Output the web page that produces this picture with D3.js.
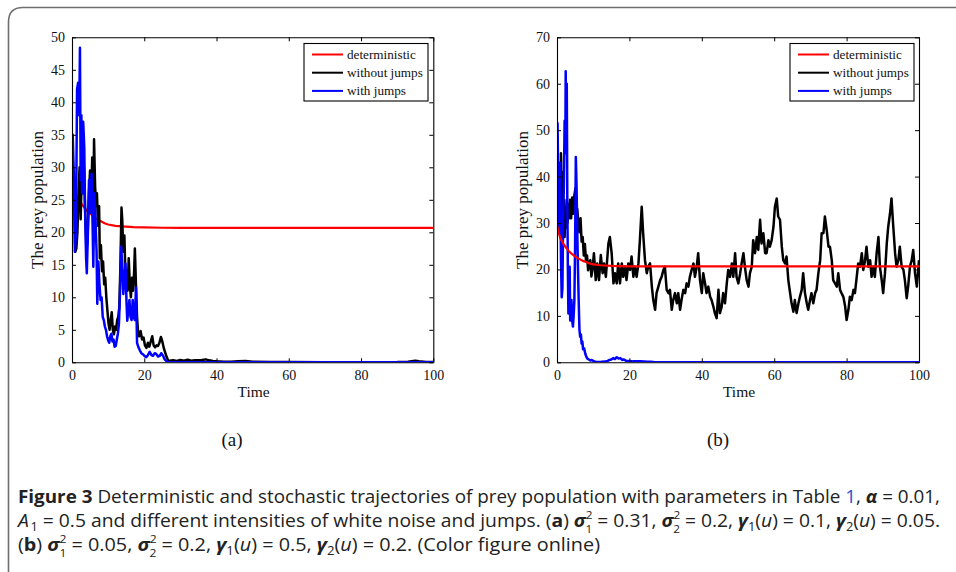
<!DOCTYPE html>
<html lang="en">
<head>
<meta charset="UTF-8">
<title>Figure 3</title>
<script src="https://cdn.jsdelivr.net/npm/d3@7"></script>
<style>
  body { margin: 0; background: #fff; }
  svg { display: block; }
</style>
</head>
<body>
<svg id="fig" width="956" height="572"></svg>
<script>
// ---- data: [time, prey] ----
const timeTicks = [0, 20, 40, 60, 80, 100];
const yTicksA = [0, 5, 10, 15, 20, 25, 30, 35, 40, 45, 50];
const yTicksB = [0, 10, 20, 30, 40, 50, 60, 70];
const legendLabels = ["deterministic", "without jumps", "with jumps"];
const seriesColors = ["#ff0000", "#000000", "#0000ff"];

const detA = [[0,27.5],[0.5,26.5],[1,25.9],[2,24.9],[3,24.1],[4,23.4],[5,22.9],[6,22.4],[7,22.0],[8,21.7],[9,21.4],[10,21.2],[12,21.0],[14,20.9],[17,20.8],[20,20.75],[25,20.7],[30,20.68],[100,20.68]];

const noJumpA = [[0,28],[0.3,25],[0.6,27],[0.9,17],[1.2,17.5],[1.5,20],[1.8,26],[2.1,30],[2.4,22],[2.7,29],[3.0,26],[3.3,30],[3.6,24],[4.0,17],[4.3,19],[4.7,26],[5.0,29.5],[5.3,25],[5.6,31.5],[5.9,22],[6.1,34.3],[6.4,27],[6.7,24],[6.9,26],[7.2,21],[7.5,24],[7.7,16],[8.0,18],[8.3,14],[8.6,15.5],[8.9,12],[9.2,13],[9.5,10],[9.8,8],[10.1,6],[10.4,5],[10.7,6.5],[11.0,7.7],[11.3,5],[11.6,4.3],[11.9,5.5],[12.2,5],[12.5,6.5],[12.8,7],[13.1,8.5],[13.4,15],[13.7,23.8],[13.9,22],[14.2,17],[14.5,19.5],[14.8,13],[15.1,14],[15.4,11],[15.7,16],[16.0,12],[16.3,10],[16.6,13],[16.9,11],[17.2,14],[17.4,17.5],[17.7,12],[18.0,7],[18.3,4.5],[18.6,4],[19.0,4.8],[19.4,3.5],[19.8,3.8],[20.2,2.6],[20.6,2.2],[21.0,3],[21.4,2.4],[21.8,3.2],[22.2,4],[22.6,2.6],[23.0,2.3],[23.4,2.6],[23.8,2.5],[24.2,3],[24.6,3.9],[25.0,3.2],[25.4,2.2],[25.8,1.5],[26.2,0.8],[26.6,0.3],[27,0.25],[28,0.3],[29,0.2],[30,0.35],[31,0.25],[32,0.4],[33,0.25],[34,0.3],[35,0.3],[36,0.35],[37,0.45],[38,0.3],[39,0.2],[40,0.15],[42,0.1],[44,0.08],[46,0.15],[48,0.2],[50,0.08],[55,0.05],[60,0.03],[70,0.02],[80,0.02],[90,0.05],[93,0.1],[95,0.25],[96,0.15],[98,0.05],[100,0.03]];

const jumpA = [[0,30],[0.2,35],[0.5,29],[0.8,17],[1.1,20],[1.4,42],[1.7,43],[2.0,38],[2.2,48.4],[2.4,28],[2.6,38],[2.8,26],[3.1,37],[3.4,33],[3.6,24],[3.9,16],[4.1,13.7],[4.4,20],[4.7,28],[5.0,23],[5.4,29],[5.7,21],[5.9,14.7],[6.2,26],[6.5,22],[6.8,17],[7.0,9],[7.3,15.5],[7.6,12],[7.9,9.6],[8.2,10],[8.5,7],[8.8,6.5],[9.1,5.5],[9.4,5],[9.7,4],[10.0,3.4],[10.3,3.0],[10.6,4],[10.9,4.4],[11.2,3.2],[11.5,3.5],[11.8,2.4],[12.1,2.5],[12.4,3.5],[12.7,4.4],[13.0,6],[13.3,11],[13.6,17.8],[13.9,15],[14.2,10.5],[14.5,13],[14.8,15.2],[15.1,9],[15.3,6.4],[15.6,8],[15.9,9.6],[16.2,7],[16.5,6.5],[16.8,9.6],[17.1,7],[17.4,6.5],[17.7,11.5],[18.0,3],[18.4,2.3],[18.8,1.8],[19.2,1.4],[19.7,1.2],[20.2,0.9],[20.6,0.8],[21.0,1.1],[21.5,1.6],[22.0,1.1],[22.4,1.0],[22.9,1.4],[23.3,1.3],[23.8,0.9],[24.3,1.0],[24.7,1.4],[25.2,1.0],[25.6,0.5],[26.0,0.25],[26.5,0.05],[27,0.02],[100,0]];

const detB = [[0,29.5],[0.5,27.8],[1,26.6],[2,25.2],[3,24.2],[4,23.4],[5,22.8],[6,22.3],[7,21.9],[8,21.6],[9,21.3],[10,21.1],[12,20.9],[15,20.75],[20,20.65],[100,20.65]];

const noJumpB = [[0,30],[0.3,38],[0.5,33],[0.7,40],[0.9,27],[1.1,45],[1.3,37],[1.5,41],[1.7,29],[1.9,35],[2.1,27],[2.3,32],[2.5,29],[2.7,35],[2.9,30],[3.1,34],[3.3,31],[3.6,35],[3.9,31],[4.2,35.5],[4.5,32],[4.8,36],[5.1,37.5],[5.3,31],[5.6,33],[5.9,30],[6.2,28],[6.5,31],[6.8,26],[7.1,27],[7.4,23],[7.7,25.5],[8.0,22],[8.3,23],[8.6,19.8],[8.9,21.5],[9.2,22],[9.5,18.5],[9.8,20],[10.2,23.5],[10.7,17.7],[11.1,21.3],[11.6,17.7],[12.1,23.1],[12.6,19.2],[13,21.3],[13.5,18.4],[14.2,25.6],[14.6,27],[15.1,23.5],[15.6,17],[16,19.2],[16.5,17],[16.9,21.3],[17.4,17],[17.9,21.3],[18.3,18.4],[18.8,20.6],[19.2,17.7],[19.7,21.3],[20.2,19.9],[20.6,22.8],[21.1,18.4],[21.5,20.6],[22,18.4],[22.5,21.3],[22.9,26.3],[23.4,33.5],[23.8,27.8],[24.3,22],[24.8,19.2],[25.2,20.6],[25.7,21.3],[26.2,16.3],[26.6,13.4],[27.1,11.3],[27.5,14.9],[28,16.3],[28.5,17.7],[28.9,18.4],[29.4,19.9],[29.8,20.6],[30.3,15.6],[30.8,14.9],[31.2,15.6],[31.7,11.3],[32.1,13.4],[32.6,14.9],[33.1,12.7],[33.5,14.9],[34,11.3],[34.4,13.4],[34.9,15.6],[35.4,14.9],[35.8,17],[36.3,16.3],[36.7,18.4],[37.2,19.9],[37.7,21.3],[38.1,18.4],[38.6,20.6],[39,23.5],[39.5,17.7],[40,14.9],[40.4,19.2],[40.9,17],[41.3,14.9],[41.8,16.3],[42.3,14.1],[42.7,13.4],[43.2,12],[43.6,10.6],[44.1,9.5],[44.6,15.6],[45,10.6],[45.5,12],[45.9,14.9],[46.4,12.7],[46.9,17],[47.3,19.9],[47.8,18.4],[48.3,21.3],[48.7,18.4],[49.2,23.5],[49.6,18.4],[50.1,17],[50.6,19.2],[51,21.3],[51.5,23.5],[51.9,20.6],[52.4,17.7],[52.9,16.3],[53.3,19.2],[53.8,20.6],[54.2,26.3],[54.7,23.5],[55.2,27],[55.6,24.2],[56.1,30.7],[56.5,25.6],[57,27.8],[57.5,23.5],[57.9,23.5],[58.4,26.3],[58.8,24.9],[59.3,26.3],[59.8,29.2],[60.2,33.5],[60.7,35.3],[61.1,31.4],[61.6,30.7],[62.1,24.9],[62.5,22],[63,21.3],[63.4,22.8],[63.9,17.7],[64.4,14.9],[64.8,12.7],[65.3,10.9],[65.7,13.4],[66.2,10.6],[66.7,12.7],[67.1,14.1],[67.6,15.6],[68,19.2],[68.5,14.9],[69,12.7],[69.4,11.3],[69.9,13.4],[70.3,14.9],[70.8,12.7],[71.3,14.9],[71.7,15.6],[72.2,19.2],[72.7,22],[73.1,27.8],[73.6,27.8],[74,31.4],[74.5,28.5],[75,24.9],[75.4,24.9],[75.9,22],[76.3,17.7],[76.8,17],[77.3,16.3],[77.7,19.2],[78.2,15.6],[78.6,14.9],[79.1,14.1],[79.6,12],[80,9.1],[80.5,11.3],[80.9,14.1],[81.4,13.4],[81.9,15.6],[82.3,14.9],[82.8,18.4],[83.2,21.3],[83.7,20.6],[84.2,23.5],[84.6,19.9],[85.1,22],[85.5,24.9],[86,20.6],[86.5,22],[86.9,18.4],[87.4,20.6],[87.8,18.4],[88.3,23.5],[88.8,27],[89.2,20.6],[89.7,17.7],[90.1,14.9],[90.6,19.2],[91.1,25.6],[91.5,29.2],[92,32.1],[92.4,35.3],[92.9,29.2],[93.4,23.5],[93.8,20.6],[94.3,22],[94.7,24.9],[95.2,20.6],[95.7,19.9],[96.1,17.7],[96.6,13.8],[97,16.3],[97.5,20.6],[98,22],[98.4,24.2],[98.9,19.2],[99.4,16.3],[100,22]];

const jumpB = [[0,47],[0.15,51.5],[0.4,35],[0.6,28],[0.8,43],[1.0,30],[1.1,22],[1.3,14],[1.5,16],[1.7,31],[1.9,38],[2.1,52],[2.3,45],[2.4,62.7],[2.55,50],[2.7,60],[2.85,35],[3.0,20],[3.15,10.5],[3.3,16],[3.5,20.6],[3.65,9],[3.8,12],[4.0,13.4],[4.2,9],[4.4,7.7],[4.6,10],[4.8,13.4],[5.0,25],[5.2,44.2],[5.4,38],[5.6,28],[5.8,20],[6.0,13],[6.2,7],[6.4,5.5],[6.6,6],[6.8,4],[7.0,4.5],[7.2,2.8],[7.5,3],[7.8,1.9],[8.1,1.2],[8.4,0.8],[8.8,0.6],[9.2,0.4],[9.6,0.5],[10,0.3],[10.5,0.1],[11,0.05],[12,0.05],[13,0.15],[14,0.3],[14.5,0.5],[15,0.6],[15.5,0.9],[16,0.7],[16.5,1.1],[17,0.8],[17.5,0.9],[18,0.5],[18.5,0.6],[19,0.35],[20,0.3],[21,0.2],[22,0.25],[23,0.2],[24,0.15],[25,0.1],[26,0.1],[27,0.02],[100,0]];

const svg = d3.select("#fig");
const serif = "'Liberation Serif', 'Times New Roman', serif";

// card frame (rounded top-left corner, cut at the right and bottom)
svg.append("path")
  .attr("d", "M8.5,572 L8.5,22 Q8.5,7.5 23,7.5 L956,7.5")
  .attr("fill", "none")
  .attr("stroke", "#6e6e6e")
  .attr("stroke-width", 1.6);

function drawPanel(p) {
  const x = d3.scaleLinear().domain([0, 100]).range([p.left, p.right]);
  const y = d3.scaleLinear().domain([0, p.yMax]).range([362.3, 37.3]);
  const g = svg.append("g");

  const clipId = "clip" + p.id;
  g.append("clipPath").attr("id", clipId)
    .append("rect")
    .attr("x", p.left).attr("y", 37.3)
    .attr("width", p.right - p.left).attr("height", 325);

  const line = d3.line().x(d => x(d[0])).y(d => y(d[1]));
  const plot = g.append("g").attr("clip-path", "url(#" + clipId + ")");
  const series = p.redOnTop
    ? [[p.noJump, 1], [p.jump, 2], [p.det, 0]]
    : [[p.det, 0], [p.noJump, 1], [p.jump, 2]];
  series.forEach(([d, i]) => {
    plot.append("path").datum(d)
      .attr("d", line)
      .attr("fill", "none")
      .attr("stroke", seriesColors[i])
      .attr("stroke-width", i === 0 ? 2.2 : 2.5)
      .attr("stroke-linejoin", "round");
  });

  // axes: inward ticks on all four sides
  const bottom = g.append("g").attr("transform", "translate(0,362.3)")
    .call(d3.axisBottom(x).tickValues(timeTicks).tickSizeInner(-4).tickSizeOuter(0).tickPadding(8));
  const top = g.append("g").attr("transform", "translate(0,37.3)")
    .call(d3.axisTop(x).tickValues(timeTicks).tickSizeInner(-4).tickSizeOuter(0).tickFormat(""));
  const left = g.append("g").attr("transform", "translate(" + p.left + ",0)")
    .call(d3.axisLeft(y).tickValues(p.yTicks).tickSizeInner(-4).tickSizeOuter(0).tickPadding(7));
  const right = g.append("g").attr("transform", "translate(" + p.right + ",0)")
    .call(d3.axisRight(y).tickValues(p.yTicks).tickSizeInner(-4).tickSizeOuter(0).tickFormat(""));
  [bottom, top, left, right].forEach(a => {
    a.attr("font-family", serif).attr("font-size", 14);
    a.select(".domain").attr("stroke", "#000").attr("stroke-width", 1.1);
    a.selectAll(".tick line").attr("stroke", "#000");
    a.selectAll(".tick text").attr("fill", "#111");
  });

  // axis titles
  g.append("text")
    .attr("x", (p.left + p.right) / 2 + 1).attr("y", 397)
    .attr("text-anchor", "middle")
    .attr("font-family", serif).attr("font-size", 15.5)
    .attr("fill", "#111")
    .text("Time");
  g.append("text")
    .attr("transform", "translate(" + p.yTitleX + ",200) rotate(-90)")
    .attr("text-anchor", "middle")
    .attr("font-family", serif).attr("font-size", 17)
    .attr("fill", "#111")
    .text("The prey population");

  // legend
  const lx = p.legendX, lw = 124;
  g.append("rect")
    .attr("x", lx).attr("y", 43.5).attr("width", lw).attr("height", 57.5)
    .attr("fill", "#fff").attr("stroke", "#000").attr("stroke-width", 1.1);
  legendLabels.forEach((lab, i) => {
    const ly = 54.5 + i * 18.2;
    g.append("line")
      .attr("x1", lx + 8).attr("x2", lx + 39)
      .attr("y1", ly).attr("y2", ly)
      .attr("stroke", seriesColors[i]).attr("stroke-width", 2);
    g.append("text")
      .attr("x", lx + 43).attr("y", ly + 4.5)
      .attr("font-family", serif).attr("font-size", 13.2)
      .attr("fill", "#111")
      .text(lab);
  });

  // panel tag
  g.append("text")
    .attr("x", p.tagX).attr("y", 446)
    .attr("text-anchor", "middle")
    .attr("font-family", serif).attr("font-size", 19)
    .attr("fill", "#111")
    .text(p.tag);
}

drawPanel({ id: "a", left: 72, right: 433.3, yMax: 50, yTicks: yTicksA,
  det: detA, noJump: noJumpA, jump: jumpA, redOnTop: false,
  yTitleX: 43, legendX: 304, tag: "(a)", tagX: 232 });
drawPanel({ id: "b", left: 557, right: 919, yMax: 70, yTicks: yTicksB,
  det: detB, noJump: noJumpB, jump: jumpB, redOnTop: true,
  yTitleX: 528, legendX: 790, tag: "(b)", tagX: 718 });

// caption
const sans = "'Open Sans', 'Noto Sans', sans-serif";
const cap = svg.append("g").attr("font-family", sans).attr("font-size", 18).attr("fill", "#222");

function capLine(yy, parts, len) {
  const t = cap.append("text").attr("x", 18).attr("y", yy)
    .attr("textLength", len).attr("lengthAdjust", "spacingAndGlyphs");
  parts.forEach(pt => {
    const s = t.append("tspan").text(pt.t);
    if (pt.b) s.attr("font-weight", "bold");
    if (pt.i) s.attr("font-style", "italic");
    if (pt.c) s.attr("fill", pt.c);
    if (pt.dy) s.attr("dy", pt.dy);
    if (pt.dx) s.attr("dx", pt.dx);
    if (pt.fs) s.attr("font-size", pt.fs);
  });
}
// stacked sub/superscript helper
function sig(sub, sup) {
  return [
    { t: "σ", b: true, i: true },
    { t: sup, fs: 11, dy: -8 },
    { t: sub, fs: 11, dy: 14, dx: -6.5 },
    { t: " = ", dy: -6 }
  ];
}
function gam(sub) {
  return [
    { t: "γ", b: true, i: true },
    { t: sub, fs: 12, dy: 4 },
    { t: "(", dy: -4 },
    { t: "u", i: true },
    { t: ") = " }
  ];
}

capLine(503, [
  { t: "Figure 3", b: true },
  { t: "  Deterministic and stochastic trajectories of prey population with parameters in Table " },
  { t: "1", c: "#2a4fd6" },
  { t: ", " },
  { t: "α", b: true, i: true },
  { t: " = 0.01," }
], 922);

capLine(527, [
  { t: "A", i: true },
  { t: "1", fs: 12, dy: 4, dx: 1.5 },
  { t: " = 0.5 and different intensities of white noise and jumps. (", dy: -4 },
  { t: "a", b: true },
  { t: ") " },
  ...sig("1", "2"), { t: "0.31, " },
  ...sig("2", "2"), { t: "0.2, " },
  ...gam("1"), { t: "0.1, " },
  ...gam("2"), { t: "0.05." }
], 922);

capLine(551, [
  { t: "(" },
  { t: "b", b: true },
  { t: ") " },
  ...sig("1", "2"), { t: "0.05, " },
  ...sig("2", "2"), { t: "0.2, " },
  ...gam("1"), { t: "0.5, " },
  ...gam("2"), { t: "0.2. (Color figure online)" }
], 582);
</script>
</body>
</html>
